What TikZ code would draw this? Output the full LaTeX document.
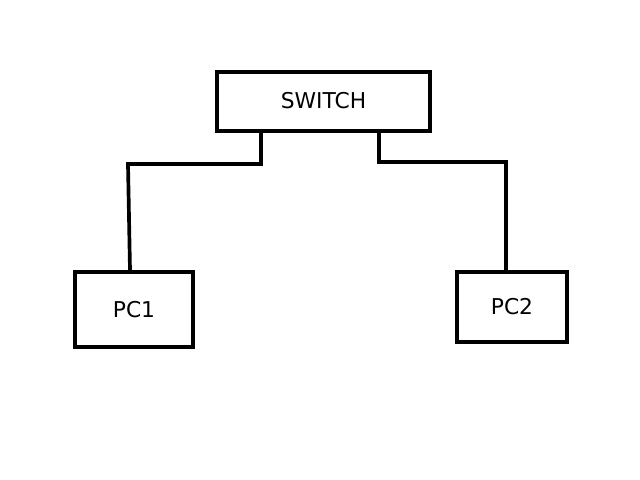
\documentclass[tikz,border=0pt]{standalone}
\usepackage{fontspec}
\setmainfont{DejaVu Sans}
\usetikzlibrary{positioning}

\begin{document}
\begin{tikzpicture}[x=0.02cm,y=-0.02cm,
                    device/.style={draw,line width=2.1pt,inner sep=0pt,font=\fontsize{12.4}{14}\selectfont},
                    link/.style={line width=2.1pt}]
  \useasboundingbox (0,0) rectangle (640,480);
  \node[device,minimum width=4.26cm,minimum height=1.18cm] (switch) at (323.5,101.5) {\raisebox{1pt}{SWITCH}};
  \node[device,minimum width=2.36cm,minimum height=1.5cm] (pc1) at (134,309.5) {PC1};
  \node[device,minimum width=2.2cm,minimum height=1.4cm] (pc2) at (512,307) {PC2};

  \coordinate (bend1) at (128,164);
  \coordinate (bend2) at (506,162);

  \draw[link] ([xshift=-1.25cm]switch.south) |- (bend1) -- ([xshift=-0.08cm]pc1.north);
  \draw[link] ([xshift=1.11cm]switch.south) |- (bend2) -- ([xshift=-0.12cm]pc2.north);
\end{tikzpicture}
\end{document}
